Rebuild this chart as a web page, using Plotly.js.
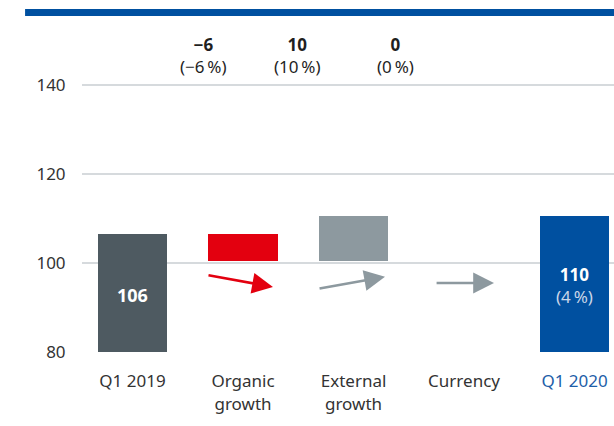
<!DOCTYPE html>
<html>
<head>
<meta charset="utf-8">
<script src="https://cdn.plot.ly/plotly-3.0.1.min.js"></script>
<style>html,body{margin:0;padding:0;background:#fff;}#chart{width:614px;height:426px;}</style>
</head>
<body>
<div id="chart"></div>
<script>
// ---- data ----
const categories = ['Q1 2019', 'Organic<br>growth', 'External<br>growth', 'Currency', 'Q1 2020'];
const startValue = 106.5;            // Q1 2019 bar height (as drawn)
const changeValues = [-6, 10, 0];    // organic, external, currency
const endValue = 110.5;              // Q1 2020 bar height (as drawn)
const startLabel = '106';
const endLabel = '110';
const endPctLabel = '(4\u2009%)';
const changeLabels = ['\u22126', '10', '0'];
const changePctLabels = ['(\u22126\u2009%)', '(10\u2009%)', '(0\u2009%)'];
const yTicks = [80, 100, 120, 140];

// ---- styling ----
const FONT = 'Noto Sans, Open Sans, sans-serif';
const TXT = '#333333';
const BLUE = '#0050a0';
const DARK = '#4e5a61';
const RED = '#e3000f';
const GREY = '#8d999f';
const AXMIN = 80;

// build waterfall
const xs = [0], bases = [AXMIN], heights = [startValue - AXMIN], colors = [DARK];
let run = startValue;
const changeColors = [RED, GREY, GREY];
changeValues.forEach((v, i) => {
  const lo = Math.min(run, run + v);
  xs.push(i + 1); bases.push(lo); heights.push(Math.abs(v)); colors.push(changeColors[i]);
  run += v;
});
xs.push(4); bases.push(AXMIN); heights.push(endValue - AXMIN); colors.push(BLUE);

const bars = {
  type: 'bar', x: xs, y: heights, base: bases, width: 0.625,
  marker: {color: colors, line: {width: 0}},
  hoverinfo: 'skip', cliponaxis: false
};

const annotations = [];
// top change labels (slightly left of bar centres, as in reference)
const topX = [0.638, 1.497, 2.376];
changeLabels.forEach((t, i) => {
  annotations.push({x: topX[i], y: 146.6, xref: 'x', yref: 'y', showarrow: false,
    text: '<b>' + t + '</b><br>' + changePctLabels[i],
    font: {family: FONT, size: 17, color: '#1f1f1f'}, align: 'center'});
});
// in-bar labels
annotations.push({x: 0, y: 92.8, xref: 'x', yref: 'y', showarrow: false,
  text: '<b>' + startLabel + '</b>', font: {family: FONT, size: 18, color: '#ffffff'}});
annotations.push({x: 4, y: 95.0, xref: 'x', yref: 'y', showarrow: false,
  text: '<b>' + endLabel + '</b><br><span style="color:#c9d6e8">' + endPctLabel + '</span>',
  font: {family: FONT, size: 17, color: '#ffffff'}});
// arrows
const arrows = [
  {x0: 0.674, y0: 97.3, x1: 1.271, y1: 94.6, c: RED},
  {x0: 1.679, y0: 94.2, x1: 2.285, y1: 96.9, c: GREY},
  {x0: 2.738, y0: 95.5, x1: 3.271, y1: 95.5, c: GREY}
];
arrows.forEach(a => {
  annotations.push({x: a.x1, y: a.y1, ax: a.x0, ay: a.y0, xref: 'x', yref: 'y', axref: 'x', ayref: 'y',
    showarrow: true, arrowhead: 2, arrowsize: 1.6, arrowwidth: 2.6, arrowcolor: a.c, text: ''});
});

const layout = {
  width: 614, height: 426,
  margin: {l: 82, r: 0, t: 40, b: 74, pad: 0},
  paper_bgcolor: '#ffffff', plot_bgcolor: '#ffffff',
  showlegend: false, bargap: 0,
  font: {family: FONT, size: 17, color: TXT},
  xaxis: {
    range: [-0.457, 4.357], tickvals: [0, 1, 2, 3, 4],
    ticktext: categories.map((c, i) => i === 4 ? '<span style="color:#1d5ea8">' + c + '</span>' : c),
    showgrid: false, zeroline: false, showline: false,
    ticks: 'outside', ticklen: 14, tickcolor: 'rgba(0,0,0,0)',
    tickfont: {family: FONT, size: 17, color: TXT}, fixedrange: true
  },
  yaxis: {
    range: [AXMIN, 150.1], tickvals: yTicks, showgrid: true, gridcolor: '#d6dadd', gridwidth: 1.5,
    zeroline: false, showline: false, ticks: 'outside', ticklen: 12, tickcolor: 'rgba(0,0,0,0)',
    tickfont: {family: FONT, size: 17, color: TXT}, fixedrange: true
  },
  shapes: [{type: 'rect', xref: 'paper', yref: 'paper', x0: -0.107, x1: 1.0, y0: 1.0769, y1: 1.0994,
    fillcolor: BLUE, line: {width: 0}, layer: 'above'}],
  annotations: annotations
};

Plotly.newPlot('chart', [bars], layout, {displayModeBar: false, staticPlot: true});
</script>
</body>
</html>
